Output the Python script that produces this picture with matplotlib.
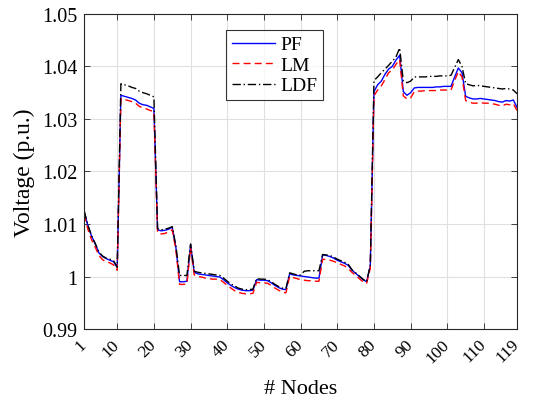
import numpy as np
import matplotlib
matplotlib.use("Agg")
import matplotlib.pyplot as plt

# node voltages (p.u.)
nodes = np.arange(1, 120)

pf = [
    1.0123, 1.0097, 1.0077, 1.0062, 1.0045, 1.0038, 1.0034, 1.0031, 1.0028, 1.0017,
    1.0345, 1.0343, 1.0341, 1.0339, 1.0336, 1.0330, 1.0327, 1.0326, 1.0323, 1.0320,
    1.0089, 1.0087, 1.0088, 1.0090, 1.0094, 1.0055, 0.9990, 0.9990, 0.9991, 1.0060,
    1.0008, 1.0005, 1.0004, 1.0003, 1.0002, 1.0001, 1.0000, 0.9999, 0.9994, 0.9988,
    0.9983, 0.9979, 0.9976, 0.9974, 0.9973, 0.9973, 0.9974, 0.9994, 0.9993, 0.9993,
    0.9992, 0.9988, 0.9983, 0.9979, 0.9976, 0.9975, 1.0005, 1.0003, 1.0002, 1.0001,
    1.0000, 0.9999, 0.9998, 0.9997, 0.9997, 1.0041, 1.0040, 1.0038, 1.0035, 1.0031,
    1.0028, 1.0025, 1.0021, 1.0012, 1.0006, 1.0000, 0.9994, 0.9990, 1.0020, 1.0352,
    1.0365, 1.0372, 1.0385, 1.0395, 1.0400, 1.0412, 1.0421, 1.0352, 1.0345, 1.0350,
    1.0359, 1.0360, 1.0360, 1.0360, 1.0360, 1.0360, 1.0361, 1.0361, 1.0362, 1.0362,
    1.0362, 1.0380, 1.0397, 1.0388, 1.0343, 1.0340, 1.0338, 1.0338, 1.0339, 1.0338,
    1.0337, 1.0336, 1.0335, 1.0333, 1.0332, 1.0335, 1.0334, 1.0336, 1.0322,
]

lm = [
    1.0118, 1.0090, 1.0070, 1.0056, 1.0040, 1.0032, 1.0028, 1.0026, 1.0022, 1.0012,
    1.0339, 1.0337, 1.0335, 1.0333, 1.0330, 1.0324, 1.0321, 1.0319, 1.0316, 1.0314,
    1.0083, 1.0081, 1.0082, 1.0085, 1.0089, 1.0050, 0.9985, 0.9985, 0.9986, 1.0055,
    1.0003, 1.0000, 0.9999, 0.9997, 0.9996, 0.9995, 0.9995, 0.9994, 0.9989, 0.9983,
    0.9978, 0.9973, 0.9970, 0.9968, 0.9967, 0.9967, 0.9968, 0.9989, 0.9988, 0.9988,
    0.9987, 0.9983, 0.9978, 0.9974, 0.9970, 0.9969, 1.0000, 0.9998, 0.9996, 0.9994,
    0.9993, 0.9992, 0.9992, 0.9991, 0.9991, 1.0033, 1.0032, 1.0031, 1.0029, 1.0026,
    1.0023, 1.0020, 1.0015, 1.0008, 1.0002, 0.9996, 0.9990, 0.9987, 1.0016, 1.0344,
    1.0355, 1.0363, 1.0375, 1.0388, 1.0393, 1.0404, 1.0413, 1.0344, 1.0338, 1.0340,
    1.0352, 1.0353, 1.0353, 1.0354, 1.0354, 1.0354, 1.0354, 1.0355, 1.0355, 1.0355,
    1.0355, 1.0373, 1.0390, 1.0380, 1.0335, 1.0332, 1.0330, 1.0330, 1.0331, 1.0330,
    1.0330, 1.0329, 1.0328, 1.0326, 1.0325, 1.0328, 1.0327, 1.0329, 1.0316,
]

ldf = [
    1.0125, 1.0098, 1.0078, 1.0063, 1.0047, 1.0039, 1.0035, 1.0033, 1.0030, 1.0018,
    1.0367, 1.0365, 1.0363, 1.0360, 1.0358, 1.0353, 1.0350, 1.0348, 1.0345, 1.0342,
    1.0091, 1.0089, 1.0090, 1.0092, 1.0095, 1.0058, 1.0002, 1.0002, 1.0002, 1.0062,
    1.0010, 1.0008, 1.0007, 1.0006, 1.0005, 1.0004, 1.0003, 1.0002, 0.9997, 0.9991,
    0.9986, 0.9982, 0.9978, 0.9976, 0.9975, 0.9975, 0.9976, 0.9996, 0.9995, 0.9995,
    0.9994, 0.9990, 0.9985, 0.9981, 0.9978, 0.9977, 1.0007, 1.0005, 1.0003, 1.0003,
    1.0010, 1.0011, 1.0011, 1.0011, 1.0011, 1.0042, 1.0041, 1.0040, 1.0037, 1.0033,
    1.0030, 1.0027, 1.0023, 1.0013, 1.0007, 1.0001, 0.9995, 0.9990, 1.0022, 1.0373,
    1.0380, 1.0388, 1.0395, 1.0402, 1.0410, 1.0418, 1.0435, 1.0372, 1.0369, 1.0372,
    1.0380, 1.0380, 1.0380, 1.0380, 1.0381, 1.0381, 1.0381, 1.0382, 1.0382, 1.0382,
    1.0383, 1.0398, 1.0413, 1.0400, 1.0367, 1.0365, 1.0363, 1.0364, 1.0363, 1.0362,
    1.0361, 1.0360, 1.0359, 1.0358, 1.0357, 1.0358, 1.0357, 1.0355, 1.0348,
]

xticks = [1, 10, 20, 30, 40, 50, 60, 70, 80, 90, 100, 110, 119]
yticks = [0.99, 1.0, 1.01, 1.02, 1.03, 1.04, 1.05]
ytick_labels = ["0.99", "1", "1.01", "1.02", "1.03", "1.04", "1.05"]

plt.rcParams["font.family"] = ["Liberation Serif", "DejaVu Serif"]

fig = plt.figure(figsize=(5.33, 4.02), dpi=100)
ax = fig.add_axes([0.158, 0.179, 0.812, 0.784])

ax.plot(nodes, pf, color="#0000ff", lw=1.0, label="PF")
ax.plot(nodes, lm, color="#ff0000", lw=1.0, ls=(0, (5, 3)), label="LM")
ax.plot(nodes, ldf, color="black", lw=1.0, ls=(0, (6, 2, 1, 2)), label="LDF")

ax.set_xlim(1, 119)
ax.set_ylim(0.99, 1.05)
ax.set_xticks(xticks)
ax.set_xticklabels([str(t) for t in xticks], rotation=45, ha="right",
                   va="center", rotation_mode="anchor")
ax.set_yticks(yticks)
ax.set_yticklabels(ytick_labels)

ax.grid(True, color="#e0e0e0", lw=0.8)
ax.set_axisbelow(True)
for s in ax.spines.values():
    s.set_color("#262626")
    s.set_linewidth(0.8)
ax.tick_params(direction="in", length=4, width=0.6, color="#262626",
               top=True, right=True, pad=4)
ax.tick_params(axis="x", labelsize=12.5, pad=9)
ax.tick_params(axis="y", labelsize=14.5, pad=5)

ax.set_xlabel("# Nodes", fontsize=16, labelpad=10)
ax.set_ylabel("Voltage (p.u.)", fontsize=17, labelpad=5)

leg = ax.legend(loc="upper left", bbox_to_anchor=(0.328, 0.949), fontsize=14,
                frameon=True, fancybox=False, edgecolor="black",
                handlelength=2.2, handletextpad=0.3, labelspacing=0.15,
                borderpad=0.3, borderaxespad=0)
leg.get_frame().set_linewidth(0.8)

fig.savefig("out.png", dpi=100)
